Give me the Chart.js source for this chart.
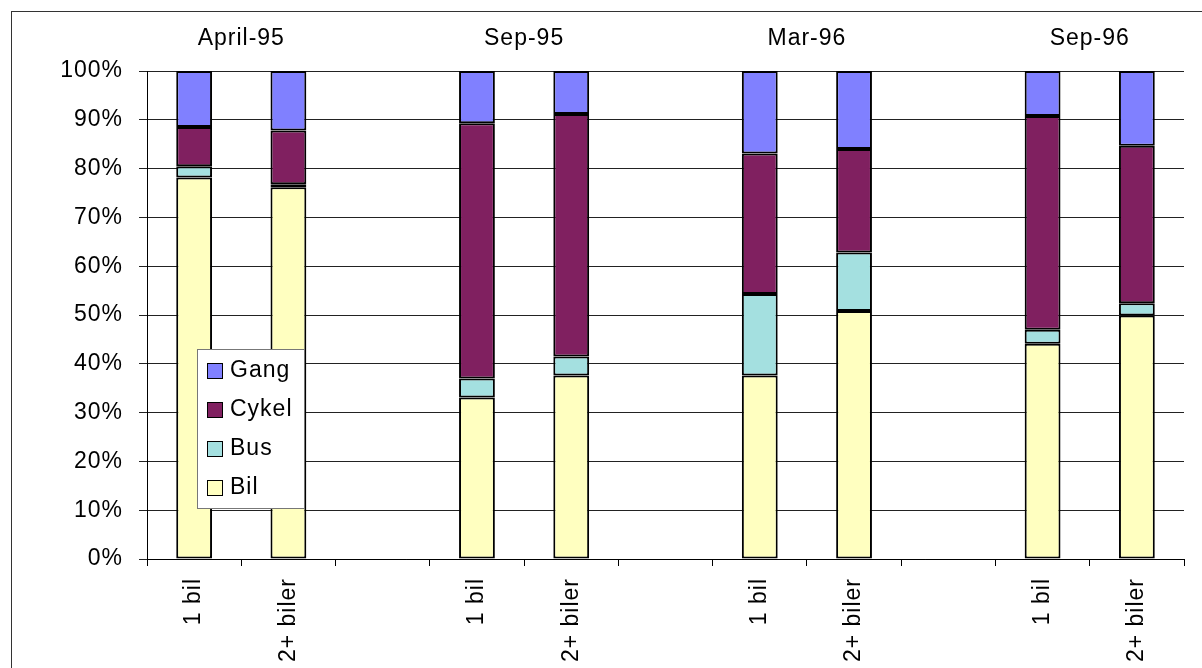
<!DOCTYPE html>
<html>
<head>
<meta charset="utf-8">
<script src="https://cdn.jsdelivr.net/npm/chart.js@4"></script>
<style>
  html, body { margin: 0; padding: 0; background: #fff; }
  #wrap { width: 1202px; height: 668px; }
</style>
</head>
<body>
<div id="wrap"><canvas id="chart"></canvas></div>
<script>
// categories (blank slots separate the survey rounds)
const categories = ['1 bil', '2+ biler', '', '1 bil', '2+ biler', '', '1 bil', '2+ biler', '', '1 bil', '2+ biler'];
const periods = ['April-95', 'Sep-95', 'Mar-96', 'Sep-96'];
const yTicks = [0, 10, 20, 30, 40, 50, 60, 70, 80, 90, 100];

// share of trips in percent
const bil   = [78.2, 76.2, null, 33.1, 37.6, null, 37.6, 50.8, null, 44.1, 49.9];
const bus   = [2.3,  0.6,  null, 3.9,  3.9,  null, 16.7, 12.0, null, 2.9,  2.5];
const cykel = [8.0,  11.0, null, 52.3, 49.7, null, 28.8, 21.2, null, 43.8, 32.3];
const gang  = [11.5, 12.2, null, 10.7, 8.8,  null, 16.9, 16.0, null, 9.2,  15.3];

const FONT = 'Arial, "Liberation Sans", sans-serif';

function makeSet(label, data, color) {
    return {
        label: label,
        data: data,
        backgroundColor: color,
        borderColor: '#000',
        borderWidth: 2,
        borderSkipped: false,
        barPercentage: 0.38,
        categoryPercentage: 1,
    };
}

// frame, round labels on top and the legend box inside the plot
const extras = {
    id: 'extras',
    beforeDraw(chart) {
        const ctx = chart.ctx;
        ctx.save();
        ctx.fillStyle = '#fff';
        ctx.fillRect(0, 0, chart.width, chart.height);
        ctx.strokeStyle = '#333';
        ctx.lineWidth = 1;
        ctx.strokeRect(11.5, 11.5, chart.width + 10, chart.height + 10);
        ctx.restore();
        ctx.letterSpacing = '1px'; // old-style wide text
    },
    afterDraw(chart) {
        const ctx = chart.ctx;
        const x = chart.scales.x;
        ctx.save();
        ctx.fillStyle = '#000';
        ctx.font = '23px ' + FONT;
        ctx.textAlign = 'center';
        ctx.textBaseline = 'middle';
        periods.forEach((p, i) => {
            const cx = (x.getPixelForValue(i * 3) + x.getPixelForValue(i * 3 + 1)) / 2;
            ctx.fillText(p, cx, 39);
        });

        // legend
        const bx = 197.5, by = 349.5, bw = 107, bh = 159;
        ctx.fillStyle = '#fff';
        ctx.fillRect(bx, by, bw, bh);
        ctx.strokeStyle = '#777';
        ctx.lineWidth = 1;
        ctx.strokeRect(bx, by, bw, bh);
        const sets = chart.data.datasets.slice().reverse();
        ctx.textAlign = 'left';
        sets.forEach((ds, i) => {
            const cy = 371 + i * 39;
            ctx.fillStyle = ds.backgroundColor;
            ctx.fillRect(207.5, cy - 7.5, 15, 15);
            ctx.strokeStyle = '#000';
            ctx.strokeRect(207.5, cy - 7.5, 15, 15);
            ctx.fillStyle = '#000';
            ctx.fillText(ds.label, 230, cy);
        });
        ctx.restore();
    }
};

const ctx = document.getElementById('chart').getContext('2d');
new Chart(ctx, {
    type: 'bar',
    data: {
        labels: categories,
        datasets: [
            makeSet('Bil', bil, '#FFFFC0'),
            makeSet('Bus', bus, '#A4E0E0'),
            makeSet('Cykel', cykel, '#802060'),
            makeSet('Gang', gang, '#8080FF'),
        ]
    },
    options: {
        responsive: true,
        maintainAspectRatio: false,
        animation: false,
        layout: { padding: { top: 71, right: 18, left: 0, bottom: 0 } },
        plugins: {
            legend: { display: false },
            tooltip: { enabled: false },
        },
        scales: {
            x: {
                stacked: true,
                afterFit: (scale) => { scale.height = 109; },
                ticks: {
                    color: '#000',
                    font: { size: 23, family: FONT },
                    minRotation: 90,
                    maxRotation: 90,
                    padding: 12,
                    autoSkip: false,
                },
                grid: {
                    offset: true,
                    drawOnChartArea: false,
                    color: '#000',
                    tickLength: 7,
                },
                border: { color: '#000', width: 1 },
            },
            y: {
                stacked: true,
                min: 0,
                max: 100,
                afterFit: (scale) => { scale.width = 147; },
                afterBuildTicks: (scale) => { scale.ticks = yTicks.map((v) => ({ value: v })); },
                ticks: {
                    color: '#000',
                    font: { size: 23, family: FONT },
                    padding: 16,
                    callback: (v) => v + '%',
                },
                grid: {
                    color: '#222',
                    lineWidth: 1,
                    tickLength: 8,
                },
                border: { color: '#000', width: 1 },
            },
        },
    },
    plugins: [extras],
});
</script>
</body>
</html>
